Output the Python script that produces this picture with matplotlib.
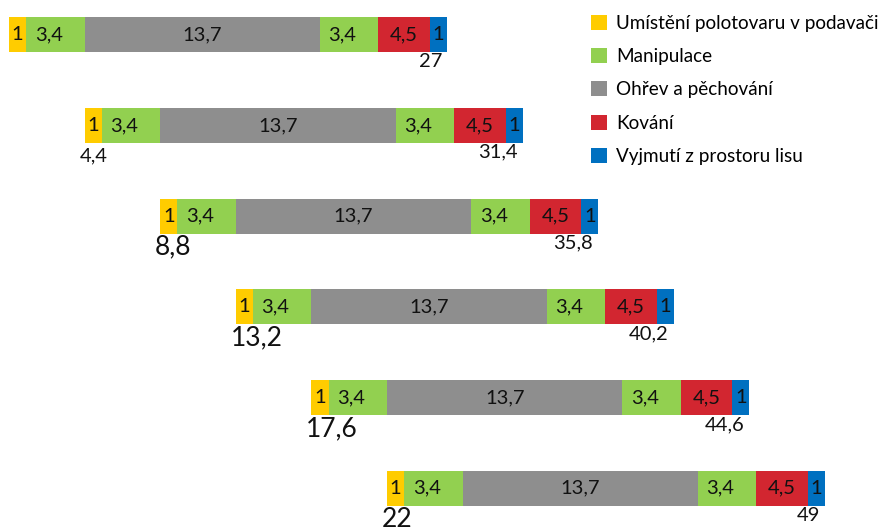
import numpy as np
import matplotlib
matplotlib.use("Agg")
from matplotlib import pyplot as plt
from matplotlib.patches import Patch

plt.rcParams['font.family'] = ['Lato', 'DejaVu Sans']

# DATA
categories = ["Umístění polotovaru v podavači", "Manipulace", "Ohřev a pěchování",
              "Kování", "Vyjmutí z prostoru lisu"]
colors = ["#FFCC00", "#92D050", "#8E8E8E", "#D22630", "#0070C0"]
# segments of one cycle (widths as drawn in the picture), which category they belong to
seg_widths = [1, 3.4, 13.7, 3.4, 3.0, 1]
seg_labels = ["1", "3,4", "13,7", "3,4", "4,5", "1"]
seg_cat = [0, 1, 2, 1, 3, 4]
starts = [0, 4.4, 8.8, 13.2, 17.6, 22]
start_labels = ["", "4,4", "8,8", "13,2", "17,6", "22"]
end_labels = ["27", "31,4", "35,8", "40,2", "44,6", "49"]

# FIGURE
fig = plt.figure(figsize=(8.85, 5.28), dpi=100)
ax = fig.add_axes([0, 0, 1, 1])
px = 17.18  # pixels per unit
ax.set_xlim(-9 / px, (885 - 9) / px)
step = 90.7
y0 = 34.7
ax.set_ylim((528 - y0) / step, -y0 / step)
ax.axis("off")

bar_h = 35 / step
for row, s in enumerate(starts):
    left = s
    for w, lab, c in zip(seg_widths, seg_labels, seg_cat):
        ax.barh(row, w, left=left, height=bar_h, color=colors[c], edgecolor="none")
        if c == 1:
            ax.text(left + 0.5, row, lab, ha="left", va="center", fontsize=14.5, color="#111111")
        else:
            ax.text(left + w / 2, row, lab, ha="center", va="center", fontsize=14.5, color="#111111")
        left += w
    end = left
    if start_labels[row]:
        if row == 1:
            fs, off = 14.5, 18 / step
        else:
            fs, off = 19, 21 / step
        ax.text(s - 0.3, row + bar_h / 2 + off, start_labels[row], ha="left", va="baseline",
                fontsize=fs, color="#111111")
    ax.text(end - 0.3, row + bar_h / 2 + 0.01, end_labels[row], ha="right", va="top",
            fontsize=14.5, color="#111111")

handles = [Patch(facecolor=colors[i], edgecolor="none") for i in range(len(categories))]
fig.legend(handles, categories, loc="upper left", bbox_to_anchor=(583 / 885, 1 - 7 / 528),
           frameon=False, fontsize=13.6, handlelength=0.85, handleheight=0.85,
           handletextpad=0.5, labelspacing=0.86, borderaxespad=0)

plt.savefig("out.png", dpi=100)
